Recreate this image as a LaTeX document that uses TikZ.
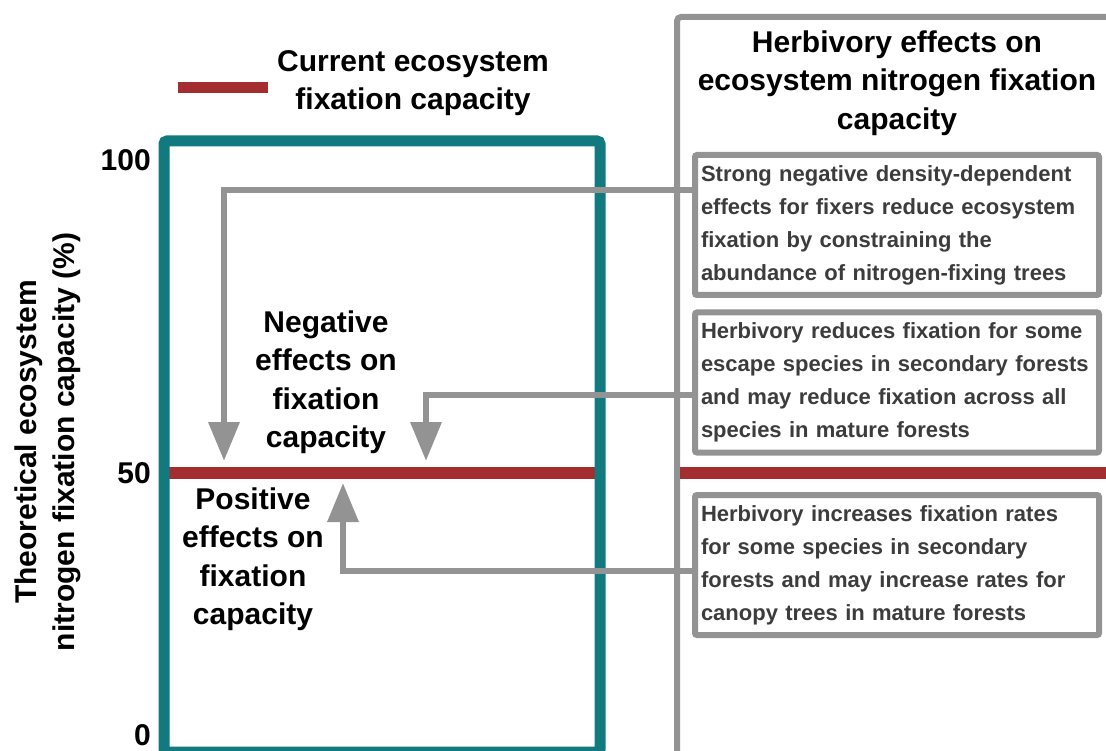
\documentclass[tikz,border=0pt]{standalone}
\usepackage{fontspec}
\setmainfont{Liberation Sans}
\usetikzlibrary{arrows.meta}
\definecolor{capteal}{HTML}{127A7E}
\definecolor{capred}{HTML}{A32D2F}
\definecolor{linkgray}{HTML}{939393}
\definecolor{txtgray}{HTML}{3C3C3C}

\begin{document}
\begin{tikzpicture}[x=1pt, y=-1pt,
  big/.style={font=\fontsize{30}{38.5}\selectfont\bfseries, align=center, inner sep=0pt},
  effect/.style={draw=linkgray, line width=6pt, rounded corners=2pt, minimum width=404pt, minimum height=140pt,
    text width=392pt, inner xsep=6pt, align=left, text=txtgray, font=\fontsize{22}{33}\selectfont\bfseries},
  link/.style={draw=linkgray, line width=6.5pt, -{Triangle[width=30pt,length=39pt]}}]
\useasboundingbox (0,0) rectangle (1106,751);

% capacity scale on the left
\draw[capred, line width=12pt] (164,473) -- (600,473);
\draw[capteal, line width=11pt, rounded corners=3pt] (164,141) rectangle (600,752);
\node[big, anchor=east] (y100) at (151,160) {100};
\node[big, anchor=east] (y50) at (151,473) {50};
\node[big, anchor=east] (y0) at (151,735) {0};
\node[big, rotate=90] (ylab) at (48,442) {Theoretical ecosystem\\nitrogen fixation capacity (\%)};

% legend
\fill[capred] (178,82) rectangle (268,93);
\node[big] (legend) at (413,83) {Current ecosystem\\fixation capacity};

\node[big] (neg) at (326,382) {Negative\\effects on\\fixation\\capacity};
\node[big] (pos) at (253,559) {Positive\\effects on\\fixation\\capacity};

% herbivory panel on the right
\draw[linkgray, line width=6pt, rounded corners=4pt] (677,760) |- (1115,17);
\draw[capred, line width=12pt] (680,472.5) -- (1106,472.5);
\node[big] (herb) at (897,83) {Herbivory effects on\\ecosystem nitrogen fixation\\capacity};

\node[effect] (strong) at (897,225) {Strong negative density-dependent\\effects for fixers reduce ecosystem\\fixation by constraining the\\abundance of nitrogen-fixing trees};
\node[effect] (reduce) at (897,382.5) {Herbivory reduces fixation for some\\escape species in secondary forests\\and may reduce fixation across all\\species in mature forests};
\node[effect] (increase) at (897,565) {Herbivory increases fixation rates\\for some species in secondary\\forests and may increase rates for\\canopy trees in mature forests};

\coordinate (tipA) at (224,461);
\coordinate (tipB) at (426,461);
\coordinate (tipC) at (343,483);
\draw[link] ([yshift=35pt]strong.west) -| (tipA);
\draw[link] ([yshift=-12.5pt]reduce.west) -| (tipB);
\draw[link] ([yshift=-6pt]increase.west) -| (tipC);
\end{tikzpicture}
\end{document}
